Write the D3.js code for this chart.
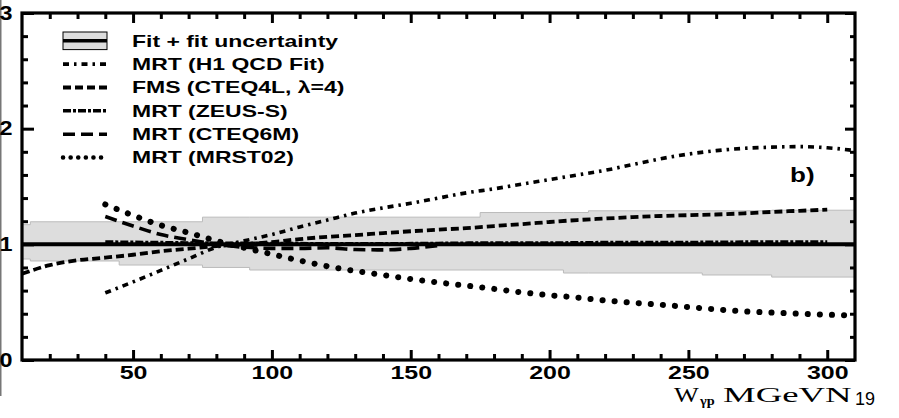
<!DOCTYPE html>
<html><head><meta charset="utf-8">
<script src="https://cdn.jsdelivr.net/npm/d3@7"></script>
<style>body{margin:0;background:#fff}svg{display:block}</style>
</head><body>
<svg id="c" width="899" height="418"></svg>
<script>
// ---- data ----
const bandX  = [10, 13, 45, 75, 92, 175, 205, 214, 255, 280, 310];
const bandHi = [1.17, 1.195, 1.195, 1.235, 1.235, 1.275, 1.275, 1.29, 1.29, 1.295, 1.295];
const bandLo = [0.873, 0.856, 0.821, 0.80, 0.778, 0.778, 0.752, 0.752, 0.735, 0.717, 0.717];
const fitX = [10, 310];
const fitY = [1.0, 1.0];

const h1X = [40,50,60,70,80,90,100,110,120,130,140,150,160,170,180,190,200,210,220,230,240,250,260,270,280,290,300,310];
const h1Y = [0.58,0.675,0.775,0.875,0.975,1.03,1.085,1.15,1.21,1.27,1.315,1.355,1.40,1.445,1.48,1.52,1.56,1.60,1.64,1.69,1.74,1.78,1.81,1.83,1.84,1.845,1.835,1.81];

const fmsX = [10,20,30,40,50,60,70,80,90,100,110,120,130,140,150,160,170,180,190,200,210,220,230,240,250,260,270,280,290,300];
const fmsY = [0.745,0.82,0.862,0.885,0.91,0.94,0.962,0.985,1.0,1.02,1.045,1.065,1.08,1.097,1.113,1.127,1.14,1.158,1.175,1.193,1.21,1.223,1.235,1.245,1.252,1.258,1.268,1.28,1.29,1.30];

const zeusX = [40,60,80,100,120,140,160,180,200,220,240,260,280,300];
const zeusY = [1.02,1.015,1.01,1.008,1.005,1.005,1.008,1.012,1.012,1.015,1.015,1.018,1.02,1.02];

const cteq6X = [40,50,60,70,80,90,100,110,120,130,140,150,160];
const cteq6Y = [1.24,1.158,1.085,1.04,1.0,0.975,0.965,0.965,0.97,0.955,0.952,0.965,0.99];

const mrstX = [40,50,60,70,80,90,100,110,120,130,140,150,160,170,180,190,200,210,220,230,240,250,260,270,280,290,300,310];
const mrstY = [1.345,1.25,1.165,1.10,1.03,0.97,0.915,0.86,0.81,0.77,0.735,0.70,0.67,0.643,0.615,0.585,0.56,0.54,0.515,0.495,0.478,0.458,0.438,0.42,0.41,0.40,0.392,0.385];

const legendLabels = ["Fit + fit uncertainty","MRT (H1 QCD Fit)","FMS (CTEQ4L, \u03bb=4)","MRT (ZEUS-S)","MRT (CTEQ6M)","MRT (MRST02)"];
const xMajorTicks = [50,100,150,200,250,300];
const yMajorTicks = [0,1,2,3];

// ---- layout ----
const L = 22, R = 855, T = 13, B = 360;
const svg = d3.select("#c");
const x = d3.scaleLinear().domain([10,310]).range([L,R]);
const y = d3.scaleLinear().domain([0,3]).range([B,T]);
const xMinor = d3.range(20, 310, 10).filter(v => v % 50 !== 0);
const yMinor = d3.range(0.2, 3, 0.2).filter(v => Math.abs(v - Math.round(v)) > 0.01);

svg.append("defs").append("clipPath").attr("id","clip")
  .append("rect").attr("x",L).attr("y",T).attr("width",R-L).attr("height",B-T);

// scan artifact line on left edge
svg.append("line").attr("x1",0.75).attr("x2",0.75).attr("y1",0).attr("y2",396)
  .attr("stroke","#777").attr("stroke-width",1.5);

const plot = svg.append("g").attr("clip-path","url(#clip)");

// band
const bandData = bandX.map((v,i)=>({x:v, lo:bandLo[i], hi:bandHi[i]}));
plot.append("path").datum(bandData)
  .attr("d", d3.area().curve(d3.curveStepAfter).x(d=>x(d.x)).y0(d=>y(d.lo)).y1(d=>y(d.hi)))
  .attr("fill","#dddddd");
plot.append("path").datum(bandData)
  .attr("d", d3.line().curve(d3.curveStepAfter).x(d=>x(d.x)).y(d=>y(d.hi)))
  .attr("fill","none").attr("stroke","#bbb").attr("stroke-width",1);
plot.append("path").datum(bandData)
  .attr("d", d3.line().curve(d3.curveStepAfter).x(d=>x(d.x)).y(d=>y(d.lo)))
  .attr("fill","none").attr("stroke","#bbb").attr("stroke-width",1);

const line = d3.line().curve(d3.curveMonotoneX).x(d=>x(d[0])).y(d=>y(d[1]));
const zip = (a,b)=>a.map((v,i)=>[v,b[i]]);

const styles = [
  {w:4, dash:null, cap:"butt"},
  {w:3.6, dash:"6,5,2.5,5", cap:"butt"},
  {w:3.8, dash:"8,4", cap:"butt"},
  {w:3.5, dash:"8,2,3,2", cap:"butt"},
  {w:3.6, dash:"12,6", cap:"butt"},
  {w:6, dash:"0.1,12", cap:"round"}
];
const series = [zip(fitX,fitY), zip(h1X,h1Y), zip(fmsX,fmsY), zip(zeusX,zeusY), zip(cteq6X,cteq6Y), zip(mrstX,mrstY)];

series.forEach((s,i)=>{
  plot.append("path").datum(s).attr("d",line)
    .attr("fill","none").attr("stroke","#000")
    .attr("stroke-width",styles[i].w)
    .attr("stroke-dasharray",styles[i].dash)
    .attr("stroke-linecap",styles[i].cap);
});

// ---- axes ----
const tickFont = "'Liberation Sans', Arial, sans-serif";
function styleAxis(g){
  g.select(".domain").remove();
  g.selectAll("line").attr("stroke","#000").attr("stroke-width",3);
}
// bottom
svg.append("g").attr("transform",`translate(0,${B})`)
  .call(d3.axisBottom(x).tickValues(xMinor).tickSize(-6).tickFormat(""))
  .call(styleAxis);
const bx = svg.append("g").attr("transform",`translate(0,${B})`)
  .call(d3.axisBottom(x).tickValues(xMajorTicks).tickSize(-10).tickPadding(6).tickFormat(d3.format("d")))
  .call(styleAxis);
bx.selectAll("text").attr("font-family",tickFont).attr("font-weight","bold")
  .attr("font-size",18.5).attr("fill","#000").attr("transform","scale(1.35,1)");
// top
svg.append("g").attr("transform",`translate(0,${T})`)
  .call(d3.axisTop(x).tickValues(xMinor).tickSize(-6).tickFormat("")).call(styleAxis);
svg.append("g").attr("transform",`translate(0,${T})`)
  .call(d3.axisTop(x).tickValues(xMajorTicks).tickSize(-10).tickFormat("")).call(styleAxis);
// left
svg.append("g").attr("transform",`translate(${L},0)`)
  .call(d3.axisLeft(y).tickValues(yMinor).tickSize(-6).tickFormat("")).call(styleAxis);
const ly = svg.append("g").attr("transform",`translate(${L},0)`)
  .call(d3.axisLeft(y).tickValues(yMajorTicks).tickSize(-12).tickPadding(8).tickFormat(d3.format("d")))
  .call(styleAxis);
ly.selectAll("text").attr("font-family",tickFont).attr("font-weight","bold")
  .attr("font-size",19.5).attr("fill","#000").attr("transform","scale(1.2,1)");
// right
svg.append("g").attr("transform",`translate(${R},0)`)
  .call(d3.axisRight(y).tickValues(yMinor).tickSize(-5).tickFormat("")).call(styleAxis);
svg.append("g").attr("transform",`translate(${R},0)`)
  .call(d3.axisRight(y).tickValues(yMajorTicks).tickSize(-10).tickFormat("")).call(styleAxis);

// frame
svg.append("rect").attr("x",L).attr("y",T).attr("width",R-L).attr("height",B-T)
  .attr("fill","none").attr("stroke","#000").attr("stroke-width",3.2);

// ---- legend ----
const legX0 = 63, legX1 = 107, legTextX = 132, legY0 = 40.8, legDY = 23.35;
legendLabels.forEach((lab,i)=>{
  const cy = legY0 + i*legDY;
  if(i===0){
    svg.append("rect").attr("x",legX0).attr("y",cy-8.8).attr("width",legX1-legX0).attr("height",17.6)
      .attr("fill","#dddddd").attr("stroke","#000").attr("stroke-width",1);
    svg.append("line").attr("x1",legX0).attr("x2",legX1).attr("y1",cy).attr("y2",cy)
      .attr("stroke","#000").attr("stroke-width",3.5);
  } else {
    svg.append("line").attr("x1",legX0).attr("x2",i===5?legX1-5:legX1).attr("y1",cy).attr("y2",cy)
      .attr("stroke","#000").attr("stroke-width",i===5?4.5:styles[i].w)
      .attr("stroke-dasharray",i===5?"0.1,7.5":styles[i].dash)
      .attr("stroke-linecap",styles[i].cap);
  }
  svg.append("text").attr("transform",`translate(${legTextX},${cy+5.9}) scale(1.41,1)`)
    .attr("font-family",tickFont).attr("font-weight","bold").attr("font-size",16.3)
    .attr("fill","#000").text(lab);
});

// panel label
svg.append("text").attr("transform","translate(790,182) scale(1.3,1)")
  .attr("font-family",tickFont).attr("font-weight","bold").attr("font-size",20)
  .attr("fill","#000").text("b)");

// x-axis title
const serif = "'Liberation Serif','Times New Roman',serif";
svg.append("text").attr("transform","translate(674,402) scale(1.25,1)")
  .attr("font-family",serif).attr("font-size",21).attr("fill","#000").text("W");
svg.append("text").attr("transform","translate(700,405) scale(1.2,1)")
  .attr("font-family",serif).attr("font-weight","bold").attr("font-size",12).attr("fill","#000").text("\u03b3p");
svg.append("text").attr("transform","translate(723,402) scale(1.75,1)")
  .attr("font-family",serif).attr("font-size",21).attr("fill","#000").text("MGeVN");
svg.append("text").attr("transform","translate(855,405)")
  .attr("font-family",tickFont).attr("font-size",18).attr("fill","#000").text("19");
</script>
</body></html>
